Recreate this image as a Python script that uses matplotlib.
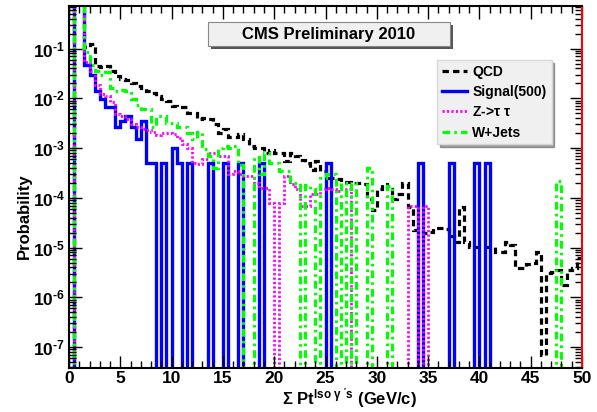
import matplotlib
matplotlib.use("Agg")
import matplotlib.pyplot as plt
import numpy as np
from matplotlib.lines import Line2D
from matplotlib.patches import Rectangle
from matplotlib.ticker import FuncFormatter, LogLocator, MultipleLocator, NullFormatter

plt.rcParams["font.family"] = ["Liberation Sans", "DejaVu Sans"]
plt.rcParams["font.weight"] = "bold"
plt.rcParams["mathtext.fontset"] = "custom"
plt.rcParams["mathtext.rm"] = "Liberation Sans:bold"
plt.rcParams["mathtext.bf"] = "Liberation Sans:bold"
plt.rcParams["mathtext.it"] = "Liberation Sans:bold"
plt.rcParams["mathtext.sf"] = "Liberation Sans"

# 100 бинов по 0.5 ГэВ, значения = вероятность в бине (0 = пустой бин)
bin_edges = np.arange(0, 50.5, 0.5)

qcd = [
    0, 0.9, 0.9, 0.107, 0.126, 0.045, 0.042, 0.044, 0.035, 0.028,
    0.025, 0.023, 0.020, 0.018, 0.016, 0.0138, 0.0126, 0.011, 0.0095, 0.0087,
    0.0069, 0.0066, 0.0066, 0.0052, 0.0052, 0.0038, 0.0040, 0.0038, 0.0030, 0.0020,
    0.0024, 0.0017, 0.0017, 0.0019, 0.0015, 0.0011, 0.0010, 0.0010, 8.1e-4, 9.3e-4,
    8.1e-4, 8.1e-4, 5.4e-4, 8.1e-4, 7.1e-4, 5.9e-4, 5.1e-4, 3.7e-4, 5.4e-4, 3.4e-4,
    2.5e-4, 2.5e-4, 2.4e-4, 2.1e-4, 2.1e-4, 2.0e-4, 2.0e-4, 1.9e-4, 9.3e-5, 5.8e-5,
    1.5e-4, 1.9e-4, 1.5e-4, 9.3e-5, 1.2e-4, 2.0e-4, 6.6e-5, 2.3e-5, 2.3e-5, 2.0e-5,
    2.1e-5, 2.5e-5, 2.5e-5, 2.4e-5, 1.7e-5, 1.3e-5, 6.6e-5, 1.3e-5, 1.05e-5, 1.05e-5,
    1.05e-5, 1.05e-5, 1.05e-5, 8e-6, 8e-6, 1.3e-5, 1.15e-5, 3.9e-6, 3.9e-6, 4.6e-6,
    5e-6, 8.3e-6, 7e-8, 3.1e-6, 3.2e-6, 3.5e-6, 1.8e-6, 3.5e-6, 3.9e-6, 6.3e-6,
]

signal = [
    0, 0.9, 0.9, 0.048, 0.030, 0.014, 0.0095, 0.0068, 0.0068, 0.0026,
    0.0035, 0.0045, 0.0026, 0.0015, 0.0035, 5e-4, 5e-4, 0, 5e-4, 0,
    1e-3, 5e-4, 0, 5e-4, 0, 0, 0, 5e-4, 0, 0,
    5e-4, 0, 0, 5e-4, 0, 0, 0, 5e-4, 0, 0,
    0, 0, 0, 0, 0, 0, 0, 0, 0, 0,
    5e-4, 0, 0, 0, 0, 0, 0, 0, 0, 0,
    0, 0, 0, 0, 0, 0, 0, 0, 5e-4, 0,
    0, 0, 0, 0, 5e-4, 0, 0, 0, 0, 5e-4,
    0, 5e-4, 0, 0, 0, 0, 0, 0, 0, 0,
    0, 0, 0, 0, 0, 0, 0, 0, 0, 0,
]

ztautau = [
    0, 0.9, 0.9, 0.053, 0.035, 0.019, 0.012, 0.011, 0.0083, 0.0048,
    0.0044, 0.0038, 0.0030, 0.0026, 0.0024, 0.0023, 0.0021, 0.0018, 0.0020, 0.0020,
    0.0019, 0.0016, 0.0012, 0.0010, 5e-4, 4.7e-4, 6e-4, 8e-4, 8e-4, 7e-4,
    7e-4, 3e-4, 3.5e-4, 3e-4, 2.7e-4, 2.7e-4, 2e-4, 1.6e-4, 1.6e-4, 8e-5,
    0, 8e-5, 2.7e-4, 1.9e-4, 1.5e-4, 7e-5, 7e-5, 1.2e-4, 1.2e-4, 1.5e-4,
    1.6e-4, 1.5e-4, 1.4e-4, 1.5e-4, 1.5e-4, 0, 0, 0, 0, 0,
    0, 0, 0, 0, 0, 0, 7e-5, 7e-5, 0, 7e-5,
    0, 0, 0, 0, 0, 0, 0, 0, 0, 0,
    0, 0, 0, 0, 0, 0, 0, 0, 0, 0,
    0, 0, 0, 0, 0, 0, 0, 0, 0, 0,
]

wjets = [
    0, 0.9, 0.9, 0.085, 0.048, 0.036, 0.030, 0.034, 0.016, 0.014,
    0.015, 0.014, 0.0095, 0.0075, 0.006, 0.006, 0.0027, 0.0044, 0.0044, 0.0032,
    0.0032, 0.0027, 0.0027, 0.0020, 0.0015, 0.0021, 9.4e-4, 7e-4, 4e-4, 1e-3,
    1.1e-3, 1e-3, 1.1e-3, 4.5e-4, 0, 0, 6.5e-4, 3e-4, 8e-4, 5e-4,
    5e-4, 3.4e-4, 3.4e-4, 2e-4, 1.8e-4, 0, 1.8e-4, 1.5e-4, 0, 2.5e-4,
    3e-4, 3e-4, 0, 2e-4, 0, 2e-4, 0, 0, 4e-4, 0,
    0, 0, 1.7e-4, 0, 0, 0, 0, 0, 0, 0,
    0, 0, 0, 0, 0, 0, 0, 0, 0, 0,
    0, 0, 0, 0, 0, 0, 0, 0, 0, 0,
    0, 0, 0, 0, 0, 2.2e-4, 0, 0, 0, 0,
]

labels = ["QCD", "Signal(500)", r"Z->$\tau\ \tau$", "W+Jets"]
colors = ["black", "#0000ff", "#ff00ff", "#00ff00"]
styles = [(0, (2.0, 1.3)), "-", (0, (0.8, 0.8)), (0, (2.4, 1.3, 0.8, 1.3))]
widths = [2.3, 2.4, 2.0, 2.3]

YMIN, YMAX = 3.8e-8, 0.72

fig = plt.figure(figsize=(5.97, 4.12), dpi=100)
ax = fig.add_axes([69 / 597, 1 - 368 / 412, 513 / 597, 362 / 412])

# пустые бины рисуем ниже нижней границы, как ROOT на лог-шкале
for vals, c, ls, lw in zip([qcd, signal, ztautau, wjets], colors, styles, widths):
    v = np.asarray(vals, dtype=float)
    v = np.where(v > 0, v, 1e-12)
    ax.stairs(v, bin_edges, baseline=None, color=c, linestyle=ls, linewidth=lw)

ax.set_yscale("log")
ax.set_xlim(0, 50)
ax.set_ylim(YMIN, YMAX)


def pow10(v, pos):
    # короткий дефис в показателе, как в ROOT; вне диапазона - без подписи
    if v < YMIN or v > YMAX:
        return ""
    return r"10$^{\text{%d}}$" % int(round(np.log10(v)))


ax.xaxis.set_major_locator(MultipleLocator(5))
ax.xaxis.set_minor_locator(MultipleLocator(1))
ax.yaxis.set_major_locator(LogLocator(base=10, numticks=20))
ax.yaxis.set_minor_locator(LogLocator(base=10, subs=np.arange(2, 10), numticks=20))
ax.yaxis.set_major_formatter(FuncFormatter(pow10))
ax.yaxis.set_minor_formatter(NullFormatter())
ax.tick_params(which="both", direction="in", top=True, right=True, width=1.0)
ax.tick_params(which="major", length=9, labelsize=12.5)
ax.tick_params(axis="x", which="major", pad=2)
ax.tick_params(axis="y", which="major", pad=3)
ax.tick_params(which="minor", length=5)
for lab in ax.get_xticklabels() + ax.get_yticklabels():
    lab.set_fontweight("bold")

for s in ax.spines.values():
    s.set_linewidth(1.5)
ax.spines["right"].set_color("red")

ax.set_xlabel(r"$\Sigma$ Pt$^{\mathsf{Iso\ \gamma\ 's}}$ (GeV/c)", fontsize=12, fontweight="bold")
ax.xaxis.set_label_coords(0.546, -0.052)
ax.set_ylabel("Probability", fontsize=12, fontweight="bold")
ax.yaxis.set_label_coords(-0.072, 0.42)

# заголовок в сером боксе с тенью
fig.add_artist(Rectangle((211 / 597, 1 - 49 / 412), 242 / 597, 24 / 412,
                         transform=fig.transFigure, facecolor="#555555", edgecolor="none", zorder=5))
fig.add_artist(Rectangle((208 / 597, 1 - 46 / 412), 242 / 597, 24 / 412,
                         transform=fig.transFigure, facecolor="#f0f0f0", edgecolor="#888888",
                         linewidth=0.8, zorder=6))
fig.text(329 / 597, 1 - 34 / 412, "CMS Preliminary 2010", ha="center", va="center",
         fontsize=12, fontweight="bold", zorder=7)

handles = [Line2D([], [], color=c, linestyle=ls, linewidth=lw)
           for c, ls, lw in zip(colors, styles, widths)]
leg = ax.legend(handles, labels, loc="upper left", bbox_to_anchor=(437 / 597, 1 - 60 / 412),
                bbox_transform=fig.transFigure, frameon=True, fancybox=False, shadow=True,
                handlelength=1.8, labelspacing=0.45, borderpad=0.35, borderaxespad=0,
                handletextpad=0.4, prop={"weight": "bold", "size": 10})
leg.get_frame().set_facecolor("#f0f0f0")
leg.get_frame().set_edgecolor("#d8d8d8")
leg.get_frame().set_alpha(1)

fig.savefig("out.png", dpi=100)
